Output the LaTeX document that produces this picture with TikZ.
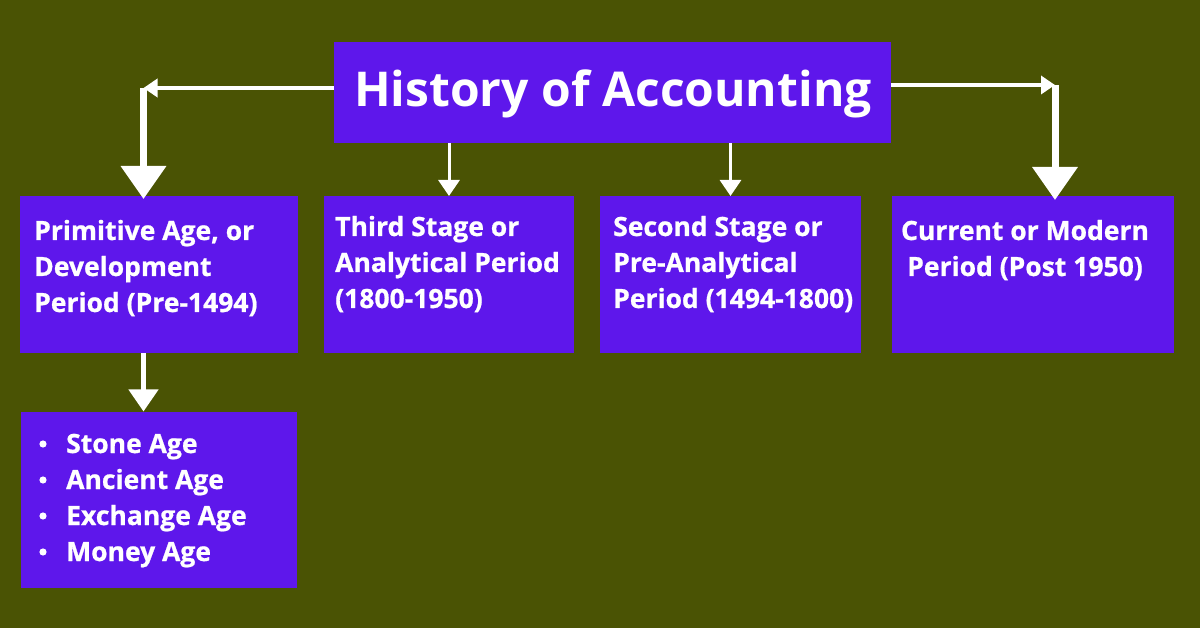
\documentclass[tikz,border=0pt]{standalone}
\usepackage{fontspec}
\setmainfont{Open Sans}[BoldFont={* Bold}]
\newfontfamily\heavy{Open Sans}[UprightFont={* Bold}, FakeBold=0.8]
\usetikzlibrary{arrows.meta}
\definecolor{bgolive}{HTML}{4A5304}
\definecolor{boxpurple}{HTML}{5E17EB}
\tikzset{
  box/.style={fill=boxpurple, draw=none, inner sep=0pt, outer sep=0pt},
  boxtext/.style={text=white, font=\heavy\fontsize{26.5}{36}\selectfont, inner sep=0pt, anchor=base west},
  titletext/.style={text=white, font=\fontsize{48}{56}\selectfont\bfseries, inner sep=0pt, anchor=base},
  hline/.style={draw=white, line width=4pt, -{Triangle[width=18pt,length=14pt]}},
  bigarrow/.style={draw=white, line width=7pt, -{Triangle[width=44pt,length=33pt]}},
  midarrow/.style={draw=white, line width=3pt, -{Triangle[width=21pt,length=16pt]}},
  listarrow/.style={draw=white, line width=4.5pt, -{Triangle[width=29pt,length=22pt]}},
}
\begin{document}
\begin{tikzpicture}[x=1pt,y=-1pt]
\fill[bgolive] (0,0) rectangle (1200,628);
\useasboundingbox (0,0) rectangle (1200,628);
% boxes
\node[box, minimum width=557pt, minimum height=101pt] (title) at (612.5,92.5) {};
\node[box, minimum width=278pt, minimum height=157pt] (b1) at (159,274.5) {};
\node[box, minimum width=250pt, minimum height=157pt] (b2) at (449,274.5) {};
\node[box, minimum width=261pt, minimum height=157pt] (b3) at (730.5,274.5) {};
\node[box, minimum width=282pt, minimum height=157pt] (b4) at (1033,274.5) {};
\node[box, minimum width=276.5pt, minimum height=176.5pt] (b5) at (158.75,499.75) {};
% texts
\node[titletext] (tt) at (613,107) {History of Accounting};
\node[boxtext] (t1a) at (34,240) {Primitive Age, or};
\node[boxtext] (t1b) at (34,276) {Development};
\node[boxtext] (t1c) at (34,312) {Period (Pre-1494)};
\node[boxtext] (t2a) at (335,236) {Third Stage or};
\node[boxtext] (t2b) at (335,272) {Analytical Period};
\node[boxtext] (t2c) at (335,308) {(1800-1950)};
\node[boxtext] (t3a) at (613,236) {Second Stage or};
\node[boxtext] (t3b) at (613,272) {Pre-Analytical};
\node[boxtext] (t3c) at (613,308) {Period (1494-1800)};
\node[boxtext, anchor=base] (t4a) at (1025,240) {Current or Modern};
\node[boxtext, anchor=base] (t4b) at (1025,276) {Period (Post 1950)};
\node[boxtext] (l1) at (66,453) {Stone Age};
\node[boxtext] (l2) at (66,489) {Ancient Age};
\node[boxtext] (l3) at (66,525) {Exchange Age};
\node[boxtext] (l4) at (66,561) {Money Age};
\foreach \yy in {453,489,525,561} \fill[white] (43,\yy-9) circle (3.6pt);
% connectors
\coordinate (cL) at (143.5,88);
\coordinate (cR) at (1055,85);
\draw[hline] (cL -| title.west) -- (cL);
\draw[bigarrow] (cL) -- ([yshift=-3pt]cL |- b1.north);
\draw[hline] (cR -| title.east) -- (cR);
\draw[bigarrow] (cR) -- ([yshift=-4pt]cR |- b4.north);
\draw[midarrow] (title.south -| b2.north) -- (b2.north);
\draw[midarrow] (title.south -| b3.north) -- (b3.north);
\draw[listarrow] (b1.south -| cL) -- (b5.north -| cL);
\end{tikzpicture}
\end{document}
